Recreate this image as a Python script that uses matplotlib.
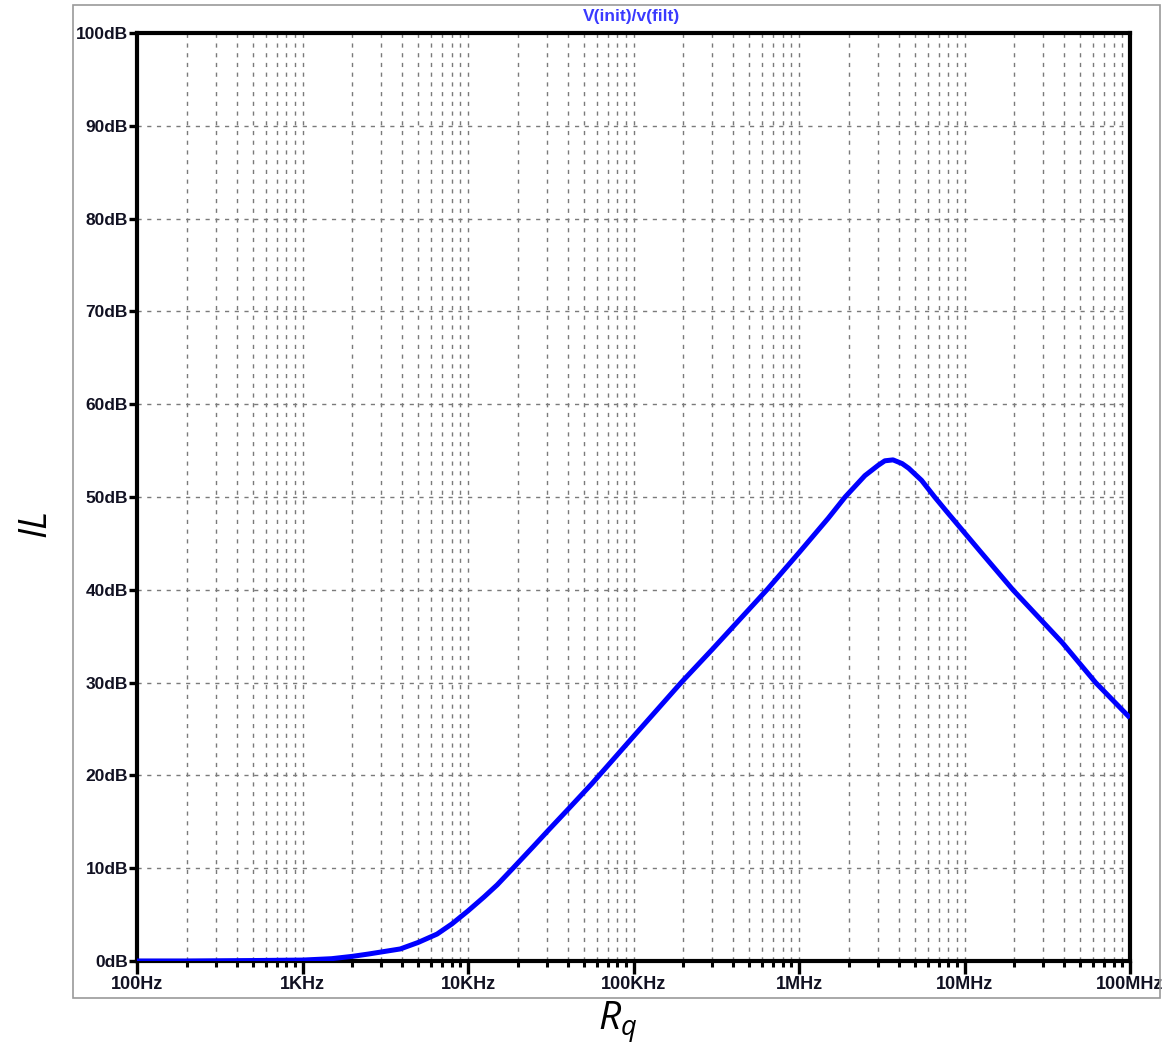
import numpy as np
import matplotlib
matplotlib.use("Agg")
import matplotlib.pyplot as plt
from matplotlib.patches import Rectangle
from matplotlib.ticker import LogLocator, FixedLocator, NullFormatter

# data
freq = [100, 200, 500, 1e3, 1.5e3, 2e3, 2.5e3, 3.9e3, 5e3, 6.5e3, 8e3, 1e4,
        1.25e4, 1.5e4, 1.87e4, 2.5e4, 3.1e4, 4e4, 5.6e4, 1e5,
        1.94e5, 3e5, 6.4e5, 1e6, 1.5e6, 1.9e6, 2.5e6, 3e6, 3.3e6, 3.7e6,
        4.2e6, 4.6e6, 5.5e6, 6.6e6, 8e6,
        1.25e7, 1.96e7, 3.9e7, 6.2e7, 1e8]
il_db = [0, 0, 0.05, 0.1, 0.25, 0.5, 0.75, 1.3, 2.0, 2.9, 4.0, 5.4,
         6.9, 8.2, 10, 12.4, 14.2, 16.3, 19.1, 24.2,
         30, 33.6, 40, 44, 47.7, 50, 52.3, 53.4, 53.9, 54.0,
         53.6, 53.1, 51.8, 50, 48.2,
         44.1, 40, 34.3, 30, 26.2]

x_ticks = [1e2, 1e3, 1e4, 1e5, 1e6, 1e7, 1e8]
x_labels = ["100Hz", "1KHz", "10KHz", "100KHz", "1MHz", "10MHz", "100MHz"]
y_ticks = list(range(0, 101, 10))
y_labels = [f"{v}dB" for v in y_ticks]

title = "V(init)/v(filt)"

plt.rcParams.update({
    "font.family": ["Liberation Sans", "DejaVu Sans"],
    "mathtext.fontset": "custom",
    "mathtext.it": "Open Sans:italic",
    "mathtext.rm": "Open Sans",
})

W, H = 1165, 1050
fig = plt.figure(figsize=(W / 100, H / 100), dpi=100)
ax = fig.add_axes([137 / W, 1 - 961 / H, (1130 - 137) / W, (961 - 33) / H])

# grey frame of the LTspice window
fig.patches.append(Rectangle((73 / W, 1 - 998 / H), (1160 - 73) / W, (998 - 5) / H,
                             transform=fig.transFigure, fill=False,
                             edgecolor="#9a9a9a", lw=1.2, zorder=0))

ax.plot(freq, il_db, color="#0000ff", lw=3.6, solid_capstyle="butt",
        solid_joinstyle="round", zorder=3)

ax.set_xscale("log")
ax.set_xlim(1e2, 1e8)
ax.set_ylim(0, 100)

ax.xaxis.set_major_locator(FixedLocator(x_ticks))
ax.set_xticklabels(x_labels)
ax.xaxis.set_minor_locator(LogLocator(base=10, subs=np.arange(2, 10), numticks=20))
ax.xaxis.set_minor_formatter(NullFormatter())
ax.set_yticks(y_ticks)
ax.set_yticklabels(y_labels)

grid_kw = dict(color="#7a7a7a", lw=1.0, linestyle=(0, (3, 4)))
ax.grid(True, which="major", axis="both", **grid_kw)
ax.grid(True, which="minor", axis="x", **grid_kw)
ax.set_axisbelow(True)

for sp in ax.spines.values():
    sp.set_linewidth(3.0)
    sp.set_color("black")

ax.tick_params(axis="x", which="major", direction="out", length=9, width=2.4,
               pad=2, labelsize=13)
ax.tick_params(axis="x", which="minor", direction="out", length=4, width=2.2)
ax.tick_params(axis="y", which="major", direction="out", length=6, width=2.4,
               pad=0.5, labelsize=12.5)
for lab in ax.get_xticklabels() + ax.get_yticklabels():
    lab.set_fontweight("bold")
    lab.set_color("#111122")

fig.text(632 / W, 1 - 17 / H, title, color="#3a3aff", fontsize=12.5,
         fontweight="bold", ha="center", va="center")

fig.text(35 / W, 1 - 523 / H, "IL", rotation=90, fontsize=27, style="italic",
         family="Open Sans", ha="center", va="center")
fig.text(618 / W, 1 - 1022 / H, "$R_q$", fontsize=28, ha="center", va="center")

fig.savefig("out.png", dpi=100)
